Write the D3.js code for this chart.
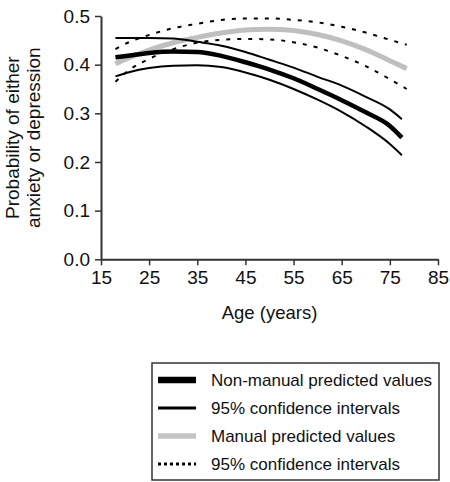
<!DOCTYPE html>
<html>
<head>
<meta charset="utf-8">
<script src="https://cdn.jsdelivr.net/npm/d3@7"></script>
<style>
  html, body { margin: 0; padding: 0; background: #fff; }
  svg { display: block; font-family: "Liberation Sans", Arial, Helvetica, sans-serif; }
</style>
</head>
<body>
<svg id="chart" width="450" height="482"></svg>
<script>
// ---- data ----
const nmAges = [18, 21, 25, 30, 35, 40, 45, 50, 55, 60, 65, 70, 75, 77.5];
const nmPred = [0.415, 0.419, 0.424, 0.427, 0.426, 0.418, 0.405, 0.390, 0.372, 0.350, 0.327, 0.302, 0.274, 0.250];
const nmUpper = [0.455, 0.455, 0.455, 0.454, 0.447, 0.439, 0.426, 0.410, 0.394, 0.375, 0.357, 0.334, 0.308, 0.288];
const nmLower = [0.376, 0.385, 0.393, 0.398, 0.399, 0.395, 0.384, 0.369, 0.350, 0.328, 0.303, 0.273, 0.237, 0.214];

const mAges = [18, 21, 25, 30, 35, 40, 45, 50, 55, 60, 65, 70, 75, 78.5];
const mPred = [0.402, 0.415, 0.430, 0.445, 0.456, 0.465, 0.471, 0.473, 0.470, 0.462, 0.449, 0.431, 0.408, 0.392];
const mUpper = [0.432, 0.447, 0.461, 0.475, 0.484, 0.492, 0.495, 0.495, 0.492, 0.487, 0.478, 0.466, 0.451, 0.441];
const mLower = [0.365, 0.390, 0.412, 0.432, 0.445, 0.451, 0.453, 0.452, 0.446, 0.435, 0.418, 0.397, 0.370, 0.350];

const xTicks = [15, 25, 35, 45, 55, 65, 75, 85];
const yTicks = [0.0, 0.1, 0.2, 0.3, 0.4, 0.5];

const legendLabels = ["Non-manual predicted values", "95% confidence intervals", "Manual predicted values", "95% confidence intervals"];

// ---- layout ----
const svg = d3.select("#chart");
const mLeft = 101, mRight = 438, mTop = 16, mBottom = 259.3;
const x = d3.scaleLinear().domain([15, 85]).range([mLeft, mRight]);
const y = d3.scaleLinear().domain([0, 0.5]).range([mBottom, mTop]);
const axisColor = "#333";

// axes
const gx = svg.append("g").attr("transform", `translate(0,${mBottom})`)
  .call(d3.axisBottom(x).tickValues(xTicks).tickFormat(d3.format("d")).tickSize(6).tickSizeOuter(0).tickPadding(5));
const gy = svg.append("g").attr("transform", `translate(${mLeft},0)`)
  .call(d3.axisLeft(y).tickValues(yTicks).tickFormat(d3.format(".1f")).tickSize(6).tickSizeOuter(0).tickPadding(5));
[gx, gy].forEach(g => {
  g.select(".domain").attr("stroke", axisColor).attr("stroke-width", 2);
  g.selectAll(".tick line").attr("stroke", axisColor).attr("stroke-width", 1.5);
  g.selectAll(".tick text").attr("fill", "#111").style("font-size", "19px").style("font-family", "Liberation Sans, Arial, sans-serif");
});

// axis titles
svg.append("text").attr("x", (mLeft + mRight) / 2).attr("y", 319)
  .attr("text-anchor", "middle").attr("fill", "#111").style("font-size", "18.5px").text("Age (years)");
const yt = svg.append("text").attr("transform", `translate(19,${(mTop + mBottom) / 2}) rotate(-90)`)
  .attr("text-anchor", "middle").attr("fill", "#111").style("font-size", "19px");
yt.append("tspan").attr("x", 0).attr("dy", 0).text("Probability of either");
yt.append("tspan").attr("x", 0).attr("dy", 21).text("anxiety or depression");

// lines
const mk = ages => d3.line().x((d, i) => x(ages[i])).y(d => y(d)).curve(d3.curveMonotoneX);
const plot = svg.append("g");
plot.append("path").datum(mUpper).attr("d", mk(mAges)).attr("fill", "none").attr("stroke", "#000").attr("stroke-width", 2).attr("stroke-dasharray", "4,7");
plot.append("path").datum(mLower).attr("d", mk(mAges)).attr("fill", "none").attr("stroke", "#000").attr("stroke-width", 2).attr("stroke-dasharray", "4,7");
plot.append("path").datum(mPred).attr("d", mk(mAges)).attr("fill", "none").attr("stroke", "#bfbfbf").attr("stroke-width", 5);
plot.append("path").datum(nmUpper).attr("d", mk(nmAges)).attr("fill", "none").attr("stroke", "#000").attr("stroke-width", 2);
plot.append("path").datum(nmLower).attr("d", mk(nmAges)).attr("fill", "none").attr("stroke", "#000").attr("stroke-width", 2);
plot.append("path").datum(nmPred).attr("d", mk(nmAges)).attr("fill", "none").attr("stroke", "#000").attr("stroke-width", 4.5);

// legend
const lg = svg.append("g");
lg.append("rect").attr("x", 152).attr("y", 363).attr("width", 287).attr("height", 117)
  .attr("fill", "#fff").attr("stroke", "#333").attr("stroke-width", 1.5);
const styles = [
  { stroke: "#000", w: 6.5, dash: null },
  { stroke: "#000", w: 3, dash: null },
  { stroke: "#c4c4c4", w: 5.5, dash: null },
  { stroke: "#000", w: 3, dash: "3,3" }
];
legendLabels.forEach((lab, i) => {
  const cy = 380 + i * 28;
  const s = styles[i];
  const ln = lg.append("line").attr("x1", 158).attr("x2", 196).attr("y1", cy).attr("y2", cy)
    .attr("stroke", s.stroke).attr("stroke-width", s.w);
  if (s.dash) ln.attr("stroke-dasharray", s.dash);
  lg.append("text").attr("x", 211).attr("y", cy + 6).attr("fill", "#111")
    .style("font-size", "17px").text(lab);
});
</script>
</body>
</html>
